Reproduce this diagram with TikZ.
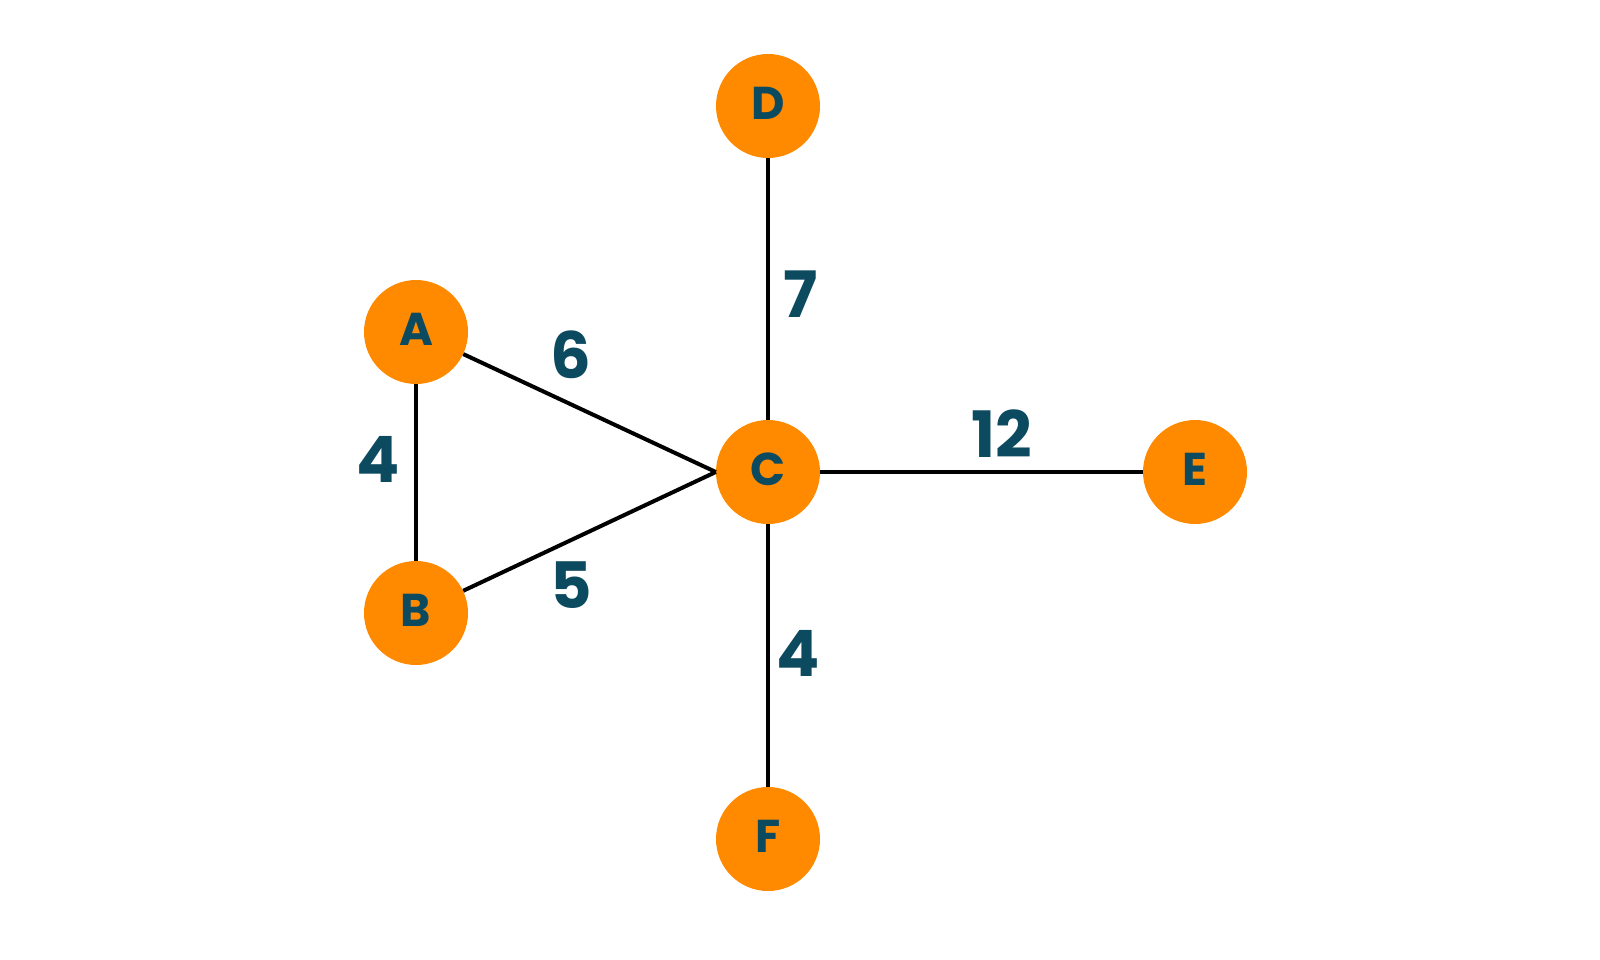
\documentclass[tikz,border=0pt]{standalone}
\usepackage{fontspec}
\setmainfont{Poppins}
\definecolor{nodeorange}{RGB}{255,138,0}
\definecolor{labelteal}{RGB}{12,74,96}
\newcommand{\vtxtext}[1]{\raisebox{6pt}{#1}}
\begin{document}
\begin{tikzpicture}[x=1pt,y=-1pt,
  vertex/.style={circle,fill=nodeorange,minimum size=104pt,inner sep=0pt,text=labelteal,font=\fontsize{46}{46}\selectfont\bfseries},
  wlabel/.style={text=labelteal,font=\fontsize{64}{64}\selectfont\bfseries,inner sep=0pt},
  edge/.style={line width=4pt,black}]
\useasboundingbox (0,0) rectangle (1600,960);
\node[vertex] (A) at (416,332) {\vtxtext{A}};
\node[vertex] (B) at (416,613) {\vtxtext{B}};
\node[vertex] (C) at (768,472) {\vtxtext{C}};
\node[vertex] (D) at (768,106) {\vtxtext{D}};
\node[vertex] (E) at (1195,472) {\vtxtext{E}};
\node[vertex] (F) at (768,839) {\vtxtext{F}};
\draw[edge] (A) -- (B);
\draw[edge] (A) -- (C.west);
\draw[edge] (B) -- (C.west);
\draw[edge] (C) -- (D);
\draw[edge] (C) -- (E);
\draw[edge] (C) -- (F);
\node[wlabel] (l6) at (571,355) {6};
\node[wlabel] (l5) at (571,585) {5};
\node[wlabel] (l4a) at (378,459) {4};
\node[wlabel] (l7) at (801,294) {7};
\node[wlabel] (l12) at (1002,434) {12};
\node[wlabel] (l4b) at (798,653) {4};
\end{tikzpicture}
\end{document}
